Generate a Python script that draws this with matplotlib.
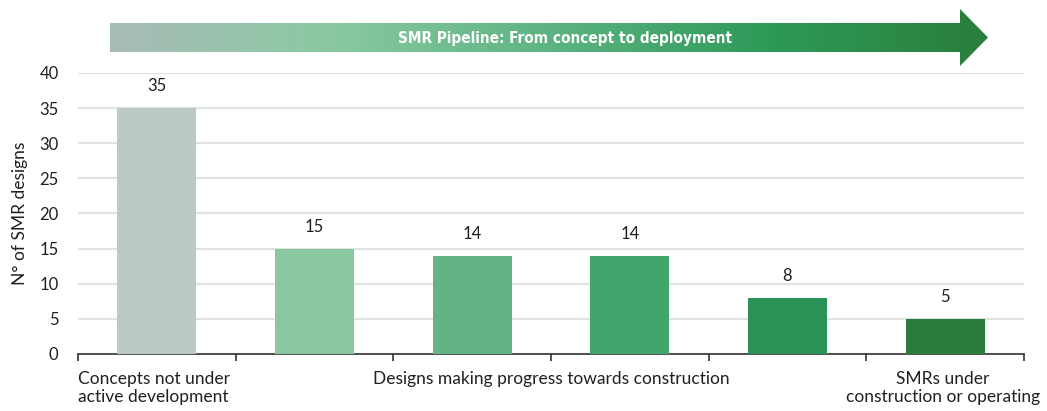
import numpy as np
import matplotlib
matplotlib.use("Agg")
import matplotlib.pyplot as plt
from matplotlib.colors import LinearSegmentedColormap
from matplotlib.patches import Polygon
from matplotlib import font_manager

plt.rcParams['font.family'] = ['Lato', 'DejaVu Sans']

values = [35, 15, 14, 14, 8, 5]
bar_colors = ['#BDC9C6', '#88C7A0', '#62B486', '#40A66B', '#2A9254', '#2B7B3B']
group_labels = ['Concepts not under\nactive development',
                'Designs making progress towards construction',
                'SMRs under\nconstruction or operating']
y_label = 'N° of SMR designs'
arrow_title = 'SMR Pipeline: From concept to deployment'
yticks = [0, 5, 10, 15, 20, 25, 30, 35, 40]

cond = [f for f in font_manager.fontManager.ttflist
        if 'Condensed' in f.fname and 'Bold' in f.fname and 'DejaVuSans' in f.fname]

TXT = '#231F20'
FS = 12.5
W, H = 1047, 411
fig = plt.figure(figsize=(W / 100, H / 100), dpi=100)
ax = fig.add_axes([78 / W, 1 - 354 / H, (1024 - 78) / W, (354 - 73) / H])

x = np.arange(len(values))
ax.bar(x, values, width=0.5, color=bar_colors, zorder=3)
for xi, v in zip(x, values):
    ax.text(xi, v + 2.0, str(v), ha='center', va='bottom', fontsize=12, color=TXT)

ax.set_xlim(-0.5, len(values) - 0.5)
ax.set_ylim(0, 40)
ax.set_yticks(yticks)
ax.tick_params(axis='y', length=0, labelsize=12, labelcolor=TXT, pad=14)
ax.yaxis.grid(True, color='#DDE4E1', linewidth=1.6, zorder=0)
ax.set_axisbelow(True)
ax.set_xticks(np.arange(-0.5, len(values) + 0.5, 1))
ax.set_xticklabels([])
ax.tick_params(axis='x', length=5, width=1.2, color='#333333', direction='out')
for s in ['top', 'right', 'left']:
    ax.spines[s].set_visible(False)
ax.spines['bottom'].set_color('#333333')
ax.spines['bottom'].set_linewidth(1.2)
ax.set_ylabel(y_label, fontsize=FS, color=TXT, labelpad=8)

# group labels
ax.text(-0.5, -0.06, group_labels[0], transform=ax.get_xaxis_transform(),
        ha='left', va='top', fontsize=FS, color=TXT, linespacing=1.15)
ax.text(2.5, -0.06, group_labels[1], transform=ax.get_xaxis_transform(),
        ha='center', va='top', fontsize=FS, color=TXT, linespacing=1.15)
ax.text(5.6, -0.06, group_labels[2], transform=ax.get_xaxis_transform(),
        ha='right', va='top', fontsize=FS, color=TXT, linespacing=1.15,
        multialignment='center')

# gradient arrow overlay (pixel coordinates)
oax = fig.add_axes([0, 0, 1, 1], zorder=-1)
oax.set_xlim(0, W)
oax.set_ylim(H, 0)
oax.axis('off')
cmap = LinearSegmentedColormap.from_list('pipe', ['#A8BCB8', '#8AC9A1', '#5DB482', '#2E9A58', '#2A7E3B'])
grad = np.linspace(0, 1, 512).reshape(1, -1)
x0, x1, xh = 110, 988, 960
poly = Polygon([[x0, 23], [xh, 23], [xh, 9], [x1, 37.5], [xh, 66], [xh, 52], [x0, 52]],
               closed=True, facecolor='none', edgecolor='none')
oax.add_patch(poly)
im = oax.imshow(grad, extent=[x0, x1, 66, 9], aspect='auto', cmap=cmap)
im.set_clip_path(poly)
if cond:
    tprops = dict(fontproperties=font_manager.FontProperties(fname=cond[0].fname, size=11))
else:
    tprops = dict(fontsize=11.5, fontweight='bold')
oax.text(565, 38, arrow_title, ha='center', va='center', color='white', **tprops)

fig.savefig('out.png', dpi=100, facecolor='white')
